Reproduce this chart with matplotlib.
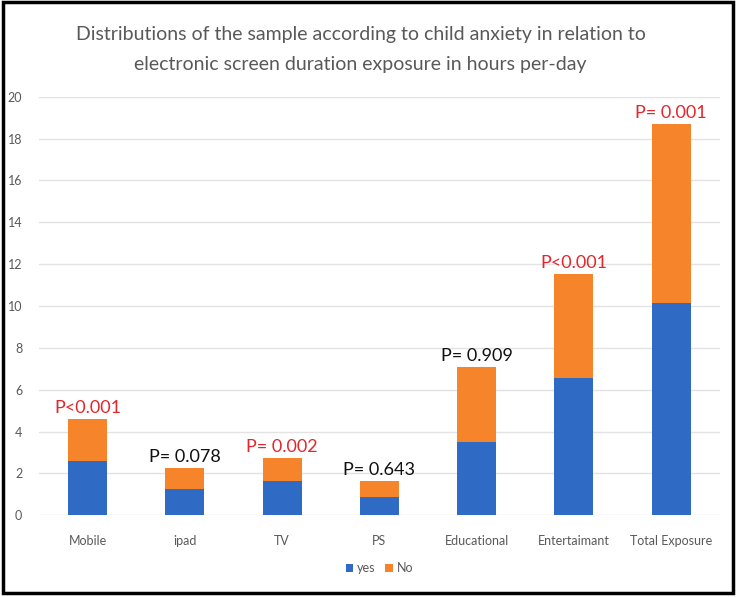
import numpy as np
import matplotlib.pyplot as plt
from matplotlib.patches import Rectangle

plt.rcParams['font.family'] = ['Lato', 'DejaVu Sans']

categories = ['Mobile', 'ipad', 'TV', 'PS', 'Educational', 'Entertaimant', 'Total Exposure']
yes_vals = [2.6, 1.26, 1.64, 0.85, 3.5, 6.56, 10.12]
totals = [4.58, 2.26, 2.74, 1.64, 7.09, 11.52, 18.68]
no_vals = [t - y for t, y in zip(totals, yes_vals)]
p_labels = ['P<0.001', 'P= 0.078', 'P= 0.002', 'P= 0.643', 'P= 0.909', 'P<0.001', 'P= 0.001']
p_signif = [True, False, True, False, False, True, True]

BLUE = '#2f6bc4'
ORANGE = '#f5842a'
GREY = '#595959'

fig = plt.figure(figsize=(7.36, 5.97), dpi=100)
ax = fig.add_axes([0.053, 0.137, 0.925, 0.701])

x = np.arange(len(categories))
ax.bar(x, yes_vals, width=0.4, color=BLUE, label='yes', zorder=3)
ax.bar(x, no_vals, width=0.4, bottom=yes_vals, color=ORANGE, label='No', zorder=3)

for xi, top, lab, sig in zip(x, totals, p_labels, p_signif):
    ax.text(xi, top + 0.15, lab, ha='center', va='bottom', fontsize=13,
            color='#e3262b' if sig else '#111111')

ax.set_xlim(-0.5, len(categories) - 0.5)
ax.set_ylim(0, 20)
ax.set_yticks(np.arange(0, 21, 2))
ax.set_xticks(x)
ax.set_xticklabels(categories)
ax.tick_params(axis='both', length=0, labelsize=9, colors=GREY)
ax.tick_params(axis='x', pad=14)
ax.tick_params(axis='y', pad=12)
ax.grid(axis='y', color='#e3e3e3', linewidth=1, zorder=0)
for s in ax.spines.values():
    s.set_visible(False)

fig.text(0.49, 0.942, 'Distributions of the sample according to child anxiety in relation to',
         ha='center', va='center', fontsize=14, color=GREY)
fig.text(0.49, 0.892, 'electronic screen duration exposure in hours per-day',
         ha='center', va='center', fontsize=14, color=GREY)

ax.legend(loc='upper center', bbox_to_anchor=(0.5, -0.085), ncol=2, frameon=False,
          fontsize=9, handlelength=0.6, handleheight=0.6, handletextpad=0.3,
          columnspacing=0.8, labelcolor=GREY)

fig.patches.append(Rectangle((0.004, 0.006), 0.992, 0.99, transform=fig.transFigure,
                             fill=False, edgecolor='black', linewidth=2.5))

fig.savefig('out.png', dpi=100)
